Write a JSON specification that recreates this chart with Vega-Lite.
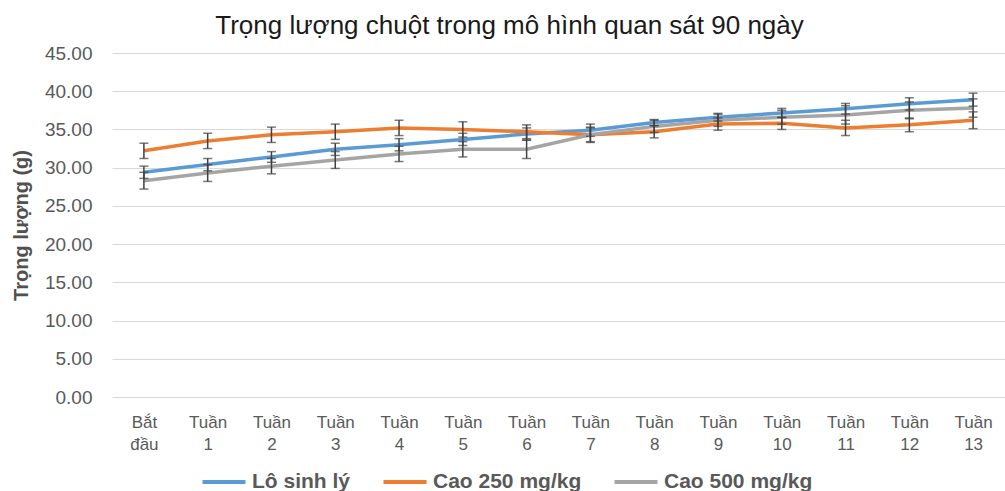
{
  "$schema": "https://vega.github.io/schema/vega-lite/v6.json",
  "width": 893,
  "height": 344,
  "autosize": {"type": "none"},
  "padding": {"left": 112, "top": 53, "right": 0, "bottom": 94},
  "background": "white",
  "config": {
    "font": "Liberation Sans",
    "view": {"stroke": null}
  },
  "title": {
    "text": "Trọng lượng chuột trong mô hình quan sát 90 ngày",
    "fontSize": 26,
    "fontWeight": "normal",
    "color": "#1a1a1a",
    "font": "Liberation Sans",
    "anchor": "middle",
    "dx": -49,
    "offset": 5
  },
  "data": {
    "values": [
      {"week": "Bắt đầu", "series": "Lô sinh lý", "mean": 29.4, "err": 0.8},
      {"week": "Tuần 1", "series": "Lô sinh lý", "mean": 30.4, "err": 0.8},
      {"week": "Tuần 2", "series": "Lô sinh lý", "mean": 31.4, "err": 0.7},
      {"week": "Tuần 3", "series": "Lô sinh lý", "mean": 32.4, "err": 0.8},
      {"week": "Tuần 4", "series": "Lô sinh lý", "mean": 33.0, "err": 0.8},
      {"week": "Tuần 5", "series": "Lô sinh lý", "mean": 33.7, "err": 0.8},
      {"week": "Tuần 6", "series": "Lô sinh lý", "mean": 34.4, "err": 0.8},
      {"week": "Tuần 7", "series": "Lô sinh lý", "mean": 34.9, "err": 0.8},
      {"week": "Tuần 8", "series": "Lô sinh lý", "mean": 35.9, "err": 0.4},
      {"week": "Tuần 9", "series": "Lô sinh lý", "mean": 36.6, "err": 0.5},
      {"week": "Tuần 10", "series": "Lô sinh lý", "mean": 37.15, "err": 0.6},
      {"week": "Tuần 11", "series": "Lô sinh lý", "mean": 37.7, "err": 0.7},
      {"week": "Tuần 12", "series": "Lô sinh lý", "mean": 38.35, "err": 0.8},
      {"week": "Tuần 13", "series": "Lô sinh lý", "mean": 38.9, "err": 0.85},
      {"week": "Bắt đầu", "series": "Cao 250 mg/kg", "mean": 32.2, "err": 1.0},
      {"week": "Tuần 1", "series": "Cao 250 mg/kg", "mean": 33.5, "err": 1.0},
      {"week": "Tuần 2", "series": "Cao 250 mg/kg", "mean": 34.3, "err": 1.0},
      {"week": "Tuần 3", "series": "Cao 250 mg/kg", "mean": 34.7, "err": 1.0},
      {"week": "Tuần 4", "series": "Cao 250 mg/kg", "mean": 35.2, "err": 1.0},
      {"week": "Tuần 5", "series": "Cao 250 mg/kg", "mean": 35.0, "err": 1.0},
      {"week": "Tuần 6", "series": "Cao 250 mg/kg", "mean": 34.7, "err": 0.9},
      {"week": "Tuần 7", "series": "Cao 250 mg/kg", "mean": 34.3, "err": 0.9},
      {"week": "Tuần 8", "series": "Cao 250 mg/kg", "mean": 34.7, "err": 0.8},
      {"week": "Tuần 9", "series": "Cao 250 mg/kg", "mean": 35.7, "err": 0.8},
      {"week": "Tuần 10", "series": "Cao 250 mg/kg", "mean": 35.8, "err": 0.8},
      {"week": "Tuần 11", "series": "Cao 250 mg/kg", "mean": 35.2, "err": 1.0},
      {"week": "Tuần 12", "series": "Cao 250 mg/kg", "mean": 35.6, "err": 0.9},
      {"week": "Tuần 13", "series": "Cao 250 mg/kg", "mean": 36.2, "err": 1.1},
      {"week": "Bắt đầu", "series": "Cao 500 mg/kg", "mean": 28.3, "err": 1.1},
      {"week": "Tuần 1", "series": "Cao 500 mg/kg", "mean": 29.3, "err": 1.1},
      {"week": "Tuần 2", "series": "Cao 500 mg/kg", "mean": 30.2, "err": 1.0},
      {"week": "Tuần 3", "series": "Cao 500 mg/kg", "mean": 31.0, "err": 1.1},
      {"week": "Tuần 4", "series": "Cao 500 mg/kg", "mean": 31.8, "err": 1.0},
      {"week": "Tuần 5", "series": "Cao 500 mg/kg", "mean": 32.4, "err": 1.0},
      {"week": "Tuần 6", "series": "Cao 500 mg/kg", "mean": 32.4, "err": 1.2},
      {"week": "Tuần 7", "series": "Cao 500 mg/kg", "mean": 34.3, "err": 1.0},
      {"week": "Tuần 8", "series": "Cao 500 mg/kg", "mean": 35.4, "err": 0.8},
      {"week": "Tuần 9", "series": "Cao 500 mg/kg", "mean": 36.2, "err": 0.8},
      {"week": "Tuần 10", "series": "Cao 500 mg/kg", "mean": 36.6, "err": 0.9},
      {"week": "Tuần 11", "series": "Cao 500 mg/kg", "mean": 36.9, "err": 1.2},
      {"week": "Tuần 12", "series": "Cao 500 mg/kg", "mean": 37.5, "err": 1.1},
      {"week": "Tuần 13", "series": "Cao 500 mg/kg", "mean": 37.8, "err": 1.2}
    ]
  },
  "encoding": {
    "x": {
      "field": "week",
      "type": "ordinal",
      "sort": ["Bắt đầu", "Tuần 1", "Tuần 2", "Tuần 3", "Tuần 4", "Tuần 5", "Tuần 6", "Tuần 7", "Tuần 8", "Tuần 9", "Tuần 10", "Tuần 11", "Tuần 12", "Tuần 13"],
      "scale": {"type": "point", "padding": 0.5},
      "axis": {
        "title": null,
        "labelAngle": 0,
        "labelExpr": "split(datum.label, ' ')",
        "labelFontSize": 17,
        "labelColor": "#595959",
        "labelPadding": 17,
        "labelLineHeight": 22,
        "domain": false,
        "ticks": false,
        "grid": false
      }
    },
    "y": {
      "field": "mean",
      "type": "quantitative",
      "scale": {"domain": [0, 45]},
      "axis": {
        "title": "Trọng lượng (g)",
        "titleFontSize": 20,
        "titleFontWeight": "bold",
        "titleColor": "#505050",
        "titlePadding": 13,
        "values": [0, 5, 10, 15, 20, 25, 30, 35, 40, 45],
        "labelOverlap": false,
        "format": ".2f",
        "labelFontSize": 19,
        "labelColor": "#595959",
        "labelPadding": 20,
        "domain": false,
        "ticks": false,
        "gridColor": "#d9d9d9",
        "gridWidth": 1
      }
    }
  },
  "layer": [
    {
      "mark": {"type": "line", "strokeWidth": 3.5},
      "encoding": {
        "color": {
          "field": "series",
          "type": "nominal",
          "scale": {
            "domain": ["Lô sinh lý", "Cao 250 mg/kg", "Cao 500 mg/kg"],
            "range": ["#5B9BD5", "#ED7D31", "#A5A5A5"]
          },
          "legend": {
            "title": null,
            "orient": "none",
            "direction": "horizontal",
            "legendX": 88,
            "legendY": 405,
            "symbolType": "stroke",
            "symbolSize": 1850,
            "symbolStrokeWidth": 4,
            "labelFontSize": 21,
            "labelFontWeight": "bold",
            "labelColor": "#595959",
            "labelOffset": 4,
            "columnPadding": 24
          }
        }
      }
    },
    {
      "mark": {"type": "errorbar", "ticks": {"size": 9, "thickness": 1.5}, "color": "#404040", "thickness": 1.5},
      "encoding": {
        "yError": {"field": "err"},
        "detail": {"field": "series"}
      }
    }
  ]
}
